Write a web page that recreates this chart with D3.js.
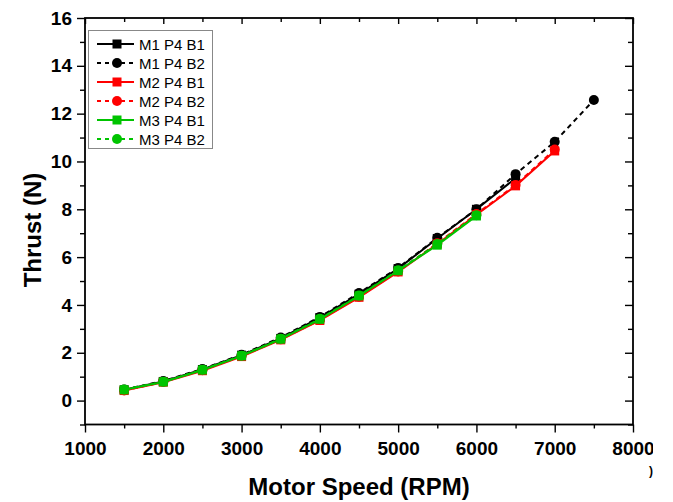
<!DOCTYPE html>
<html>
<head>
<meta charset="utf-8">
<script src="https://cdn.jsdelivr.net/npm/d3@7"></script>
<style>
  html, body { margin: 0; padding: 0; background: #fff; }
  svg { display: block; font-family: "Liberation Sans", Arial, sans-serif; }
</style>
</head>
<body>
<svg id="chart" width="673" height="502"></svg>
<script>
// ---- data ----
const speeds = [1500, 2000, 2500, 3000, 3500, 4000, 4500, 5000, 5500, 6000, 6500, 7000, 7500];
const m1b1 = [0.45, 0.80, 1.30, 1.90, 2.60, 3.47, 4.45, 5.52, 6.78, 8.00, 9.30];
const m1b2 = [0.46, 0.82, 1.32, 1.92, 2.64, 3.50, 4.50, 5.55, 6.81, 8.00, 9.47, 10.82, 12.57];
const m2b1 = [0.42, 0.77, 1.25, 1.84, 2.54, 3.35, 4.32, 5.38, 6.55, 7.77, 8.98, 10.44];
const m2b2 = [0.42, 0.78, 1.27, 1.86, 2.56, 3.37, 4.34, 5.40, 6.58, 7.80, 9.02, 10.50];
const m3b1 = [0.45, 0.78, 1.28, 1.87, 2.57, 3.40, 4.38, 5.43, 6.50, 7.72];
const m3b2 = [0.46, 0.79, 1.29, 1.88, 2.59, 3.42, 4.39, 5.45, 6.55, 7.75];
const seriesNames = ["M1 P4 B1", "M1 P4 B2", "M2 P4 B1", "M2 P4 B2", "M3 P4 B1", "M3 P4 B2"];
const xTickLabels = [1000, 2000, 3000, 4000, 5000, 6000, 7000, 8000];
const yTickLabels = [0, 2, 4, 6, 8, 10, 12, 14, 16];
const xTitle = "Motor Speed (RPM)";
const yTitle = "Thrust (N)";

const seriesDefs = [
  { name: seriesNames[0], values: m1b1, color: "#000000", dashed: false, marker: "square" },
  { name: seriesNames[1], values: m1b2, color: "#000000", dashed: true,  marker: "circle" },
  { name: seriesNames[2], values: m2b1, color: "#ff0000", dashed: false, marker: "square" },
  { name: seriesNames[3], values: m2b2, color: "#ff0000", dashed: true,  marker: "circle" },
  { name: seriesNames[4], values: m3b1, color: "#00c400", dashed: false, marker: "square" },
  { name: seriesNames[5], values: m3b2, color: "#00c400", dashed: true,  marker: "circle" }
];

// ---- layout ----
const L = 85, R = 633, T = 18, B = 424.5;
const svg = d3.select("#chart");
const x = d3.scaleLinear().domain([1000, 8000]).range([L, R]);
const y = d3.scaleLinear().domain([-1, 16]).range([B, T]);

svg.append("defs").append("clipPath").attr("id", "pageclip")
  .append("rect").attr("x", 0).attr("y", -600).attr("width", 653).attr("height", 1200);

const minorX = d3.range(1000, 8001, 500);
const minorY = d3.range(-1, 17, 1);
const FONT = "Liberation Sans, Arial, sans-serif";

// bottom axis (outward ticks)
const gB = svg.append("g").attr("transform", `translate(0,${B})`).attr("clip-path", "url(#pageclip)");
gB.call(d3.axisBottom(x).tickValues(xTickLabels).tickSize(8).tickPadding(9).tickFormat(d3.format("d")));
gB.selectAll(".tick text").attr("font-size", 19).attr("font-weight", "bold").attr("fill", "#000")
  .attr("font-family", FONT);
gB.append("g").call(d3.axisBottom(x).tickValues(minorX.filter(v => v % 1000 !== 0)).tickSize(4).tickFormat(""));
// left axis (outward)
const gL = svg.append("g").attr("transform", `translate(${L},0)`);
gL.call(d3.axisLeft(y).tickValues(yTickLabels).tickSize(8).tickPadding(5).tickFormat(d3.format("d")));
gL.selectAll(".tick text").attr("font-size", 19).attr("font-weight", "bold").attr("fill", "#000")
  .attr("font-family", FONT);
gL.append("g").call(d3.axisLeft(y).tickValues(minorY.filter(v => v % 2 !== 0)).tickSize(5).tickFormat(""));
// top axis (inward)
const gT = svg.append("g").attr("transform", `translate(0,${T})`);
gT.call(d3.axisTop(x).tickValues(xTickLabels).tickSize(-6).tickFormat(""));
gT.append("g").call(d3.axisTop(x).tickValues(minorX.filter(v => v % 1000 !== 0)).tickSize(-4).tickFormat(""));
// right axis (inward)
const gR = svg.append("g").attr("transform", `translate(${R},0)`);
gR.call(d3.axisRight(y).tickValues(yTickLabels).tickSize(-8).tickFormat(""));
gR.append("g").call(d3.axisRight(y).tickValues(minorY.filter(v => v % 2 !== 0)).tickSize(-5).tickFormat(""));

svg.selectAll(".domain").remove();
svg.selectAll(".tick line").attr("stroke-width", 1.4).attr("stroke", "#000");
svg.append("rect").attr("x", L).attr("y", T).attr("width", R - L).attr("height", B - T)
  .attr("fill", "none").attr("stroke", "#000").attr("stroke-width", 1.8);

// ---- series ----
const line = d3.line().x((d, i) => x(speeds[i])).y(d => y(d));
const plot = svg.append("g");
seriesDefs.forEach(s => {
  const g = plot.append("g");
  g.append("path").datum(s.values).attr("d", line)
    .attr("fill", "none").attr("stroke", s.color).attr("stroke-width", 2)
    .attr("stroke-dasharray", s.dashed ? "5,4" : null);
  if (s.marker === "square") {
    g.selectAll("rect").data(s.values).join("rect")
      .attr("x", (d, i) => x(speeds[i]) - 4.5).attr("y", d => y(d) - 4.5)
      .attr("width", 9).attr("height", 9).attr("fill", s.color);
  } else {
    g.selectAll("circle").data(s.values).join("circle")
      .attr("cx", (d, i) => x(speeds[i])).attr("cy", d => y(d))
      .attr("r", 5).attr("fill", s.color);
  }
});

// ---- legend ----
const lg = svg.append("g");
lg.append("rect").attr("x", 88.5).attr("y", 30.5).attr("width", 124).attr("height", 118)
  .attr("fill", "#fff").attr("stroke", "#888").attr("stroke-width", 1);
seriesDefs.forEach((s, i) => {
  const yy = 44 + i * 19;
  lg.append("line").attr("x1", 97).attr("x2", 134).attr("y1", yy).attr("y2", yy)
    .attr("stroke", s.color).attr("stroke-width", 2)
    .attr("stroke-dasharray", s.dashed ? "4,4" : null);
  if (s.marker === "square") {
    lg.append("rect").attr("x", 112.5).attr("y", yy - 4.5).attr("width", 9).attr("height", 9).attr("fill", s.color);
  } else {
    lg.append("circle").attr("cx", 117).attr("cy", yy).attr("r", 5).attr("fill", s.color);
  }
  lg.append("text").attr("x", 139).attr("y", yy + 5.5).attr("font-size", 15).attr("fill", "#000").text(s.name);
});

// ---- titles ----
svg.append("text").attr("x", 359).attr("y", 495).attr("text-anchor", "middle")
  .attr("font-size", 24).attr("font-weight", "bold").text(xTitle);
svg.append("text").attr("transform", "translate(41,230) rotate(-90)").attr("text-anchor", "middle")
  .attr("font-size", 24).attr("font-weight", "bold").text(yTitle);
svg.append("text").attr("x", 649).attr("y", 475).attr("font-size", 12).attr("font-weight", "bold")
  .attr("clip-path", "url(#pageclip)").text(")");
</script>
</body>
</html>
